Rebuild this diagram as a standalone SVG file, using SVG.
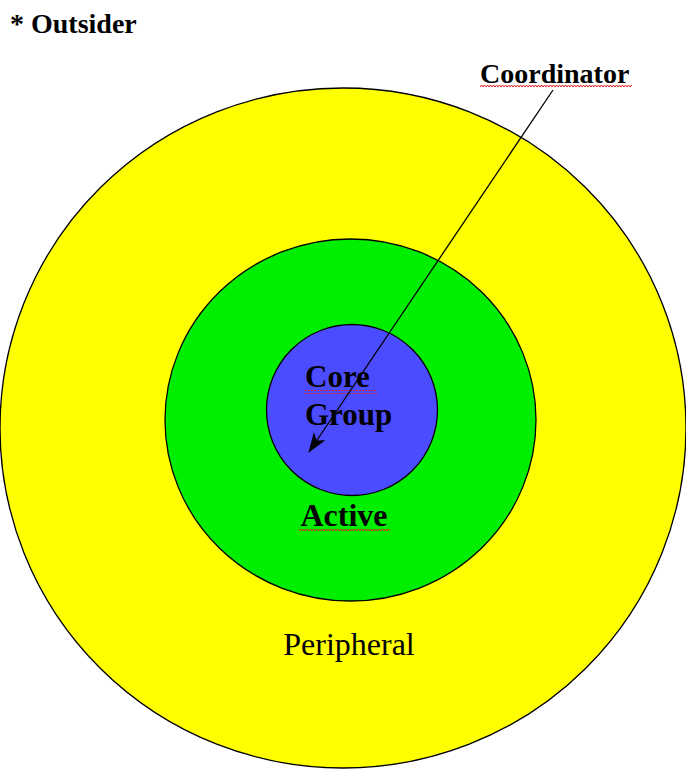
<svg xmlns="http://www.w3.org/2000/svg" width="686" height="769" viewBox="0 0 686 769">
<style>
.ring{stroke:#000;stroke-width:1.3}
.t{font-family:"Liberation Serif","Times New Roman",serif;fill:#000}
.b{font-weight:bold}
</style>
<defs>
<marker id="ah" markerWidth="20" markerHeight="16" refX="19" refY="8" orient="auto" markerUnits="userSpaceOnUse" viewBox="0 0 20 16">
<path d="M0,1 L20,8 L0,15 L5,8 z" fill="#000"/>
</marker>
<pattern id="wave" width="6" height="4" patternUnits="userSpaceOnUse">
<path d="M0,3 L1.5,1 L3,3 L4.5,1 L6,3" fill="none" stroke="#e02020" stroke-width="1"/>
</pattern>
</defs>
<rect width="686" height="769" fill="#fff"/>
<g id="peripheral">
<ellipse class="ring" cx="343" cy="428" rx="343" ry="340" fill="#ffff00"/>
<text class="t" x="349" y="655" font-size="32" text-anchor="middle">Peripheral</text>
</g>
<g id="active">
<ellipse class="ring" cx="350.5" cy="420" rx="185.5" ry="181" fill="#00ee00"/>
<text class="t b" x="344" y="526" font-size="32" text-anchor="middle">Active</text>
<rect x="299" y="528" width="91" height="4" fill="url(#wave)"/>
</g>
<g id="core">
<circle class="ring" cx="352" cy="410" r="85.5" fill="#4b4bff"/>
<text class="t b" x="305" y="387" font-size="31">Core</text>
<text class="t b" x="305" y="425" font-size="31">Group</text>
<rect x="304" y="390" width="73" height="4" fill="url(#wave)"/>
</g>
<g id="outsider">
<text class="t b" x="10" y="33" font-size="28">* Outsider</text>
</g>
<g id="coordinator">
<text class="t b" x="480" y="83" font-size="28">Coordinator</text>
<rect x="480" y="85" width="152" height="4" fill="url(#wave)"/>
</g>
<g id="connectors">
<line x1="553" y1="90" x2="309" y2="452" stroke="#000" stroke-width="1.3" marker-end="url(#ah)"/>
</g>
</svg>
